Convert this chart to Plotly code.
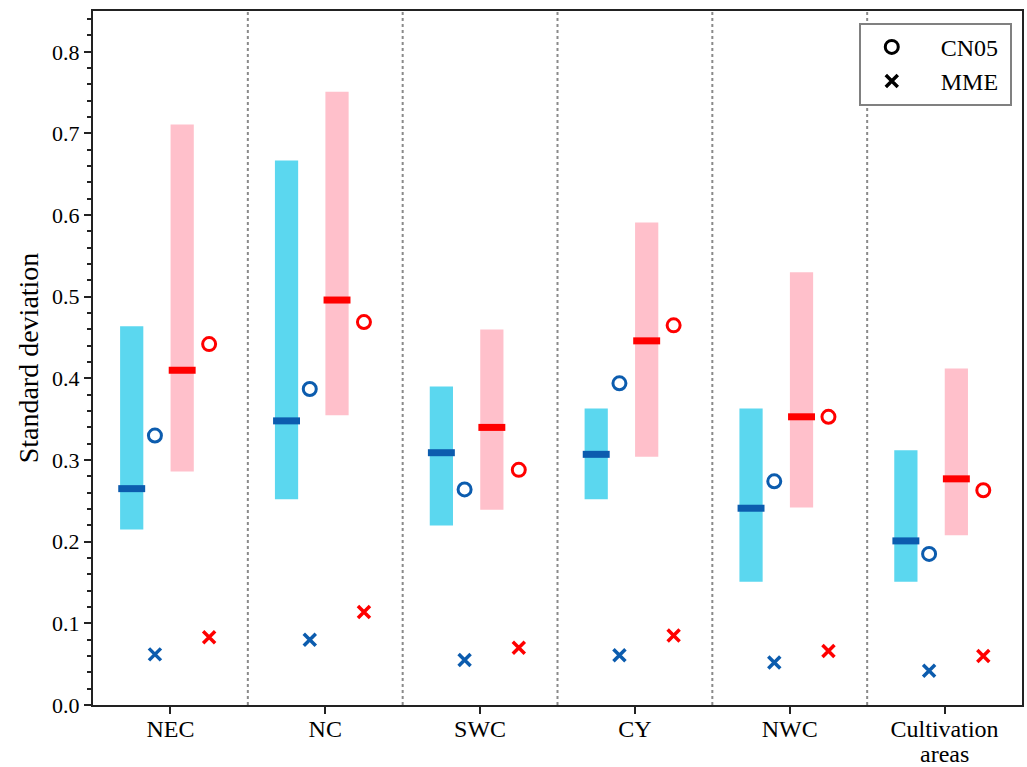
import plotly.graph_objects as go

categories = ["NEC", "NC", "SWC", "CY", "NWC", "Cultivation"]
category_second_line = ["", "", "", "", "", "areas"]
y_ticks = [0.0, 0.1, 0.2, 0.3, 0.4, 0.5, 0.6, 0.7, 0.8]

blue_low = [0.215, 0.252, 0.220, 0.252, 0.151, 0.151]
blue_high = [0.464, 0.667, 0.390, 0.363, 0.363, 0.312]
blue_median = [0.265, 0.348, 0.309, 0.307, 0.241, 0.201]
blue_cn05 = [0.330, 0.387, 0.264, 0.394, 0.274, 0.185]
blue_mme = [0.062, 0.080, 0.055, 0.061, 0.052, 0.042]

red_low = [0.286, 0.355, 0.239, 0.304, 0.242, 0.208]
red_high = [0.711, 0.751, 0.460, 0.591, 0.530, 0.412]
red_median = [0.410, 0.496, 0.340, 0.446, 0.353, 0.277]
red_cn05 = [0.442, 0.469, 0.288, 0.465, 0.353, 0.263]
red_mme = [0.083, 0.114, 0.070, 0.085, 0.066, 0.060]

CYAN = "#5bd7ef"
PINK = "#ffc0cb"
DBLUE = "#0c5cae"
RED = "#ff0000"
FONT = "Liberation Serif"
NB = "\u00a0"

n = len(categories)
idx = list(range(n))
OFF_BLUE_BAR = -0.25
OFF_RED_BAR = 0.076
OFF_BLUE_MK = -0.1
OFF_RED_MK = 0.25
BAR_W = 0.15
MED_HALF = 0.087

fig = go.Figure()

fig.add_trace(go.Bar(
    x=[i + OFF_BLUE_BAR for i in idx],
    y=[h - l for h, l in zip(blue_high, blue_low)],
    base=blue_low, width=BAR_W, marker=dict(color=CYAN, line=dict(width=0)),
    showlegend=False, hoverinfo="skip"))
fig.add_trace(go.Bar(
    x=[i + OFF_RED_BAR for i in idx],
    y=[h - l for h, l in zip(red_high, red_low)],
    base=red_low, width=BAR_W, marker=dict(color=PINK, line=dict(width=0)),
    showlegend=False, hoverinfo="skip"))


def median_segments(offset, vals):
    xs, ys = [], []
    for i, v in zip(idx, vals):
        xs += [i + offset - MED_HALF, i + offset + MED_HALF, None]
        ys += [v, v, None]
    return xs, ys


for off, vals, col in [(OFF_BLUE_BAR, blue_median, DBLUE), (OFF_RED_BAR, red_median, RED)]:
    xs, ys = median_segments(off, vals)
    fig.add_trace(go.Scatter(x=xs, y=ys, mode="lines", line=dict(color=col, width=7),
                             showlegend=False, hoverinfo="skip"))

for off, vals, col in [(OFF_BLUE_MK, blue_cn05, DBLUE), (OFF_RED_MK, red_cn05, RED)]:
    fig.add_trace(go.Scatter(x=[i + off for i in idx], y=vals, mode="markers",
                             marker=dict(symbol="circle-open", size=13, color=col,
                                         line=dict(width=3, color=col)),
                             showlegend=False))

for off, vals, col in [(OFF_BLUE_MK, blue_mme, DBLUE), (OFF_RED_MK, red_mme, RED)]:
    fig.add_trace(go.Scatter(x=[i + off for i in idx], y=vals, mode="markers",
                             marker=dict(symbol="x-thin-open", size=12, color=col,
                                         line=dict(width=3.5, color=col)),
                             showlegend=False))

# legend entries
fig.add_trace(go.Scatter(x=[None], y=[None], mode="markers", name=NB * 3 + "CN05" + NB,
                         marker=dict(symbol="circle-open", size=13, color="black",
                                     line=dict(width=3, color="black"))))
fig.add_trace(go.Scatter(x=[None], y=[None], mode="markers", name=NB * 3 + "MME" + NB,
                         marker=dict(symbol="x-thin-open", size=12, color="black",
                                     line=dict(width=3.5, color="black"))))

for i in range(n - 1):
    fig.add_shape(type="line", x0=i + 0.5, x1=i + 0.5, y0=0, y1=1, yref="paper",
                  line=dict(color="#8a8a8a", width=2, dash="dot"), layer="below")

# second line of multi-line category labels (tighter line spacing than plotly's <br>)
for i, txt in zip(idx, category_second_line):
    if txt:
        fig.add_annotation(x=i, xref="x", y=0, yref="paper", text=txt, showarrow=False,
                           xanchor="center", yanchor="middle", yshift=-49, borderpad=0,
                           font=dict(family=FONT, size=24, color="black"))

fig.update_layout(
    width=1027, height=767,
    margin=dict(l=93, r=5, t=11, b=62),
    plot_bgcolor="white", paper_bgcolor="white",
    barmode="overlay",
    font=dict(family=FONT, color="black", size=20),
    legend=dict(x=0.989, y=0.983, xanchor="right", yanchor="top",
                bordercolor="#808080", borderwidth=2, bgcolor="white",
                font=dict(family=FONT, size=24), itemwidth=52),
    xaxis=dict(range=[-0.5, n - 0.5], tickmode="array", tickvals=idx, ticktext=categories,
               showline=True, linecolor="#222", linewidth=2, mirror=True,
               ticks="outside", ticklen=7, tickwidth=2, tickcolor="#222",
               showgrid=False, zeroline=False, tickfont=dict(size=24, family=FONT),
               automargin=False, ticklabelstandoff=-6),
    yaxis=dict(range=[0, 0.85], tickmode="array", tickvals=y_ticks,
               ticktext=[f"{v:.1f}" for v in y_ticks],
               showline=True, linecolor="#222", linewidth=2, mirror=True,
               ticks="outside", ticklen=7, tickwidth=2, tickcolor="#222",
               minor=dict(dtick=0.02, tick0=0, ticks="outside", ticklen=4, tickwidth=1.5,
                          tickcolor="#222", showgrid=False),
               showgrid=False, zeroline=False, tickfont=dict(size=22, family=FONT),
               automargin=False,
               title=dict(text="Standard deviation", font=dict(size=28, family=FONT),
                          standoff=5)),
)

POST = (
    "document.documentElement.style.overflow='hidden';"
    "document.body.style.margin='0';document.body.style.overflow='hidden';"
    "var d=document.querySelector('.plotly-graph-div');"
    "d.style.position='fixed';d.style.left='0px';d.style.top='0px';"
)

fig.write_html("out.html", config={"displayModeBar": False}, post_script=POST)
